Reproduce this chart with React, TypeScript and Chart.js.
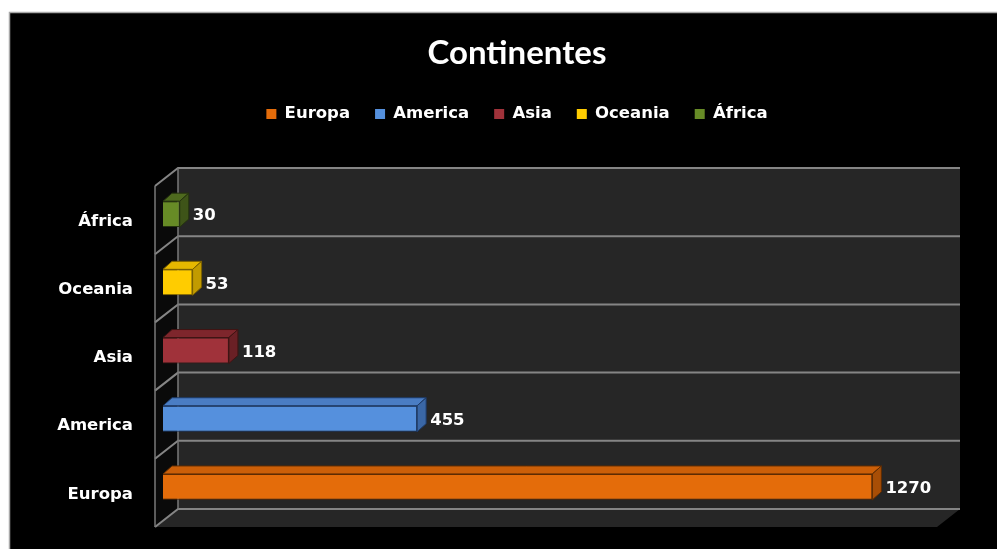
import React, { useEffect, useRef } from "react";
import { Chart, registerables } from "chart.js";

Chart.register(...registerables);

const titleText = "Continentes";
const categories = ["Europa", "America", "Asia", "Oceania", "África"];
const values = [1270, 455, 118, 53, 30];
const frontColors = ["#E46C0A", "#5590DD", "#A0323A", "#FFCC00", "#678B26"];
const topColors = ["#CC5F08", "#4A7DC4", "#7E262C", "#E6B800", "#4E6A1E"];
const sideColors = ["#A84E06", "#3A67A6", "#6A2025", "#C29B00", "#3E5418"];
const borderColors = ["#5E2C03", "#1E3A66", "#3F1413", "#7A6000", "#26340F"];
const axisMax = 1400;

const FONT = "'DejaVu Sans', sans-serif";
const TITLE_FONT = "Lato, 'DejaVu Sans', sans-serif";
const BACK = { x: 15, y: -12 };
const FRONT = { x: -8, y: 6 };
const BAR_DEPTH = { x: 9, y: -8 };

const backgroundPlugin = {
  id: "pageBackground",
  beforeDraw(chart: any) {
    const { ctx, width, height } = chart;
    ctx.save();
    ctx.fillStyle = "#ffffff";
    ctx.fillRect(0, 0, width, height);
    ctx.fillStyle = "#000000";
    ctx.fillRect(9, 12, width - 9, height - 12);
    ctx.strokeStyle = "#a8a8a8";
    ctx.lineWidth = 1.5;
    ctx.beginPath();
    ctx.moveTo(9.5, height);
    ctx.lineTo(9.5, 12.5);
    ctx.lineTo(width, 12.5);
    ctx.stroke();
    ctx.restore();
  },
};

const wallsPlugin = {
  id: "walls3d",
  beforeDatasetsDraw(chart: any) {
    const { ctx, chartArea } = chart;
    const { left: L, right: R, top: T, bottom: B } = chartArea;
    const yScale = chart.scales.y;
    const n = yScale.ticks.length;
    const rowH = (B - T) / n;
    ctx.save();
    ctx.fillStyle = "#262626";
    ctx.fillRect(L + BACK.x, T + BACK.y, R - L, B - T);
    ctx.beginPath();
    ctx.moveTo(L + BACK.x, B + BACK.y);
    ctx.lineTo(R + BACK.x, B + BACK.y);
    ctx.lineTo(R + FRONT.x, B + FRONT.y);
    ctx.lineTo(L + FRONT.x, B + FRONT.y);
    ctx.closePath();
    ctx.fill();
    ctx.fillStyle = "#0a0a0a";
    ctx.beginPath();
    ctx.moveTo(L + BACK.x, T + BACK.y);
    ctx.lineTo(L + BACK.x, B + BACK.y);
    ctx.lineTo(L + FRONT.x, B + FRONT.y);
    ctx.lineTo(L + FRONT.x, T + FRONT.y);
    ctx.closePath();
    ctx.fill();
    ctx.strokeStyle = "#858585";
    ctx.lineWidth = 2;
    for (let k = 0; k <= n; k++) {
      const y = T + k * rowH;
      ctx.beginPath();
      ctx.moveTo(L + FRONT.x, y + FRONT.y);
      ctx.lineTo(L + BACK.x, y + BACK.y);
      ctx.lineTo(R + BACK.x, y + BACK.y);
      ctx.stroke();
    }
    ctx.lineWidth = 1.5;
    ctx.strokeStyle = "#7a7a7a";
    ctx.beginPath();
    ctx.moveTo(L + BACK.x, T + BACK.y);
    ctx.lineTo(L + BACK.x, B + BACK.y);
    ctx.moveTo(L + FRONT.x, T + FRONT.y);
    ctx.lineTo(L + FRONT.x, B + FRONT.y);
    ctx.stroke();
    ctx.restore();
  },
  afterDatasetsDraw(chart: any) {
    const { ctx } = chart;
    ctx.save();
    chart.data.datasets.forEach((ds: any, di: number) => {
      const meta = chart.getDatasetMeta(di);
      meta.data.forEach((el: any, idx: number) => {
        const v = ds.data[idx];
        if (v === null || v === undefined) return;
        const { x, y, base, height } = el.getProps(["x", "y", "base", "height"], true);
        const top = y - height / 2;
        const bottom = y + height / 2;
        ctx.lineWidth = 1;
        ctx.strokeStyle = borderColors[di];
        ctx.fillStyle = topColors[di];
        ctx.beginPath();
        ctx.moveTo(base, top);
        ctx.lineTo(x, top);
        ctx.lineTo(x + BAR_DEPTH.x, top + BAR_DEPTH.y);
        ctx.lineTo(base + BAR_DEPTH.x, top + BAR_DEPTH.y);
        ctx.closePath();
        ctx.fill();
        ctx.stroke();
        ctx.fillStyle = sideColors[di];
        ctx.beginPath();
        ctx.moveTo(x, top);
        ctx.lineTo(x + BAR_DEPTH.x, top + BAR_DEPTH.y);
        ctx.lineTo(x + BAR_DEPTH.x, bottom + BAR_DEPTH.y);
        ctx.lineTo(x, bottom);
        ctx.closePath();
        ctx.fill();
        ctx.stroke();
        ctx.fillStyle = "#ffffff";
        ctx.font = `bold 16.5px ${FONT}`;
        ctx.textAlign = "left";
        ctx.textBaseline = "middle";
        ctx.fillText(String(v), x + BAR_DEPTH.x + 4, y + 2);
      });
    });
    ctx.restore();
  },
};

export default function App() {
  const canvasRef = useRef<HTMLCanvasElement | null>(null);

  useEffect(() => {
    if (!canvasRef.current) return;
    const datasets = categories.map((c, i) => ({
      label: c,
      data: values.map((v, j) => (j === i ? v : null)),
      backgroundColor: frontColors[i],
      borderColor: borderColors[i],
      borderWidth: 1,
      grouped: false,
      barPercentage: 0.38,
      categoryPercentage: 1,
    }));
    const chart = new Chart(canvasRef.current, {
      type: "bar",
      data: { labels: categories, datasets },
      plugins: [backgroundPlugin, wallsPlugin],
      options: {
        indexAxis: "y",
        responsive: false,
        animation: false,
        layout: { padding: { top: 12, left: 40, right: 3, bottom: 0 } },
        plugins: {
          title: {
            display: true,
            text: titleText,
            color: "#ffffff",
            font: { family: TITLE_FONT, size: 33, weight: "bold" },
            padding: { top: 21.2, bottom: 7.95 },
          },
          legend: {
            display: true,
            position: "top",
            labels: {
              color: "#ffffff",
              font: { family: FONT, size: 16.5, weight: "bold" },
              boxWidth: 10,
              boxHeight: 10,
              padding: 25,
              generateLabels: (ch: any) =>
                Chart.defaults.plugins.legend.labels
                  .generateLabels(ch)
                  .map((l: any) => ({ ...l, lineWidth: 0 })),
            },
          },
          tooltip: { enabled: false },
        },
        scales: {
          x: {
            position: "top",
            min: 0,
            max: axisMax,
            grid: { display: false, drawTicks: false },
            border: { display: false },
            ticks: { display: false },
            afterFit: (s: any) => {
              s.height = 47.75;
            },
          },
          xBottom: {
            axis: "x",
            type: "linear",
            position: "bottom",
            display: true,
            grid: { display: false, drawTicks: false },
            border: { display: false },
            ticks: { display: false },
            afterFit: (s: any) => {
              s.height = 28;
            },
          },
          y: {
            reverse: true,
            grid: { display: false, drawTicks: true, tickLength: 30 },
            border: { display: false },
            ticks: {
              color: "#ffffff",
              font: { family: FONT, size: 16.5, weight: "bold" },
              padding: 0,
              labelOffset: 7.5,
            },
            afterFit: (s: any) => {
              s.width = 123;
            },
          },
          yRight: {
            axis: "y",
            type: "linear",
            position: "right",
            display: true,
            grid: { display: false, drawTicks: false },
            border: { display: false },
            ticks: { display: false },
            afterFit: (s: any) => {
              s.width = 49;
            },
          },
        },
      } as any,
    });
    return () => chart.destroy();
  }, []);

  return (
    <div style={{ position: "fixed", left: 0, top: 0, width: 997, height: 549 }}>
      <canvas ref={canvasRef} width={997} height={549} style={{ display: "block" }} />
    </div>
  );
}
